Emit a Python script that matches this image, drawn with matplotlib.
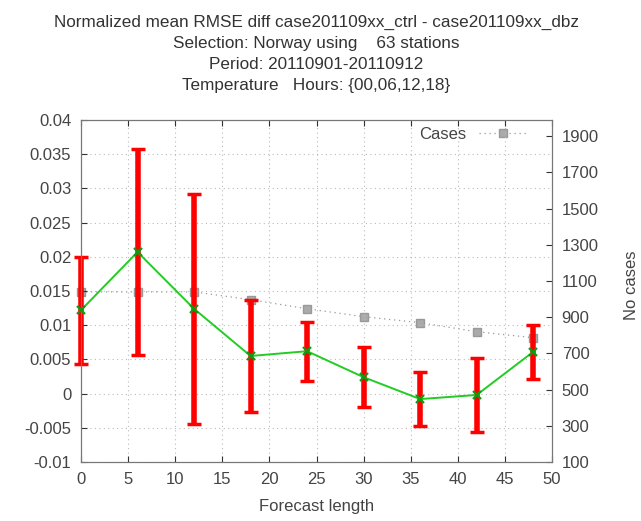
import matplotlib.pyplot as plt
import numpy as np

plt.rcParams['font.family'] = ['Liberation Sans', 'DejaVu Sans']

# forecast lengths and normalized RMSE differences
fclen = [0, 6, 12, 18, 24, 30, 36, 42, 48]
rmse_diff = [0.0122, 0.0207, 0.0124, 0.0055, 0.0062, 0.0024, -0.0008, -0.0002, 0.0061]
rmse_err = [0.0078, 0.0150, 0.0168, 0.0082, 0.0043, 0.0044, 0.0039, 0.0054, 0.0040]
ncases = [1040, 1040, 1040, 997, 947, 903, 870, 820, 787]

title_lines = ['Normalized mean RMSE diff case201109xx_ctrl - case201109xx_dbz',
               'Selection: Norway using    63 stations',
               'Period: 20110901-20110912',
               'Temperature   Hours: {00,06,12,18}']

fig = plt.figure(figsize=(6.41, 5.21), dpi=100)
ax = fig.add_axes([81/641, 59/521, 471/641, 342/521])
ax2 = ax.twinx()

tcol = '#444444'
fcol = '#777777'
fs = 12

# cases on the right axis
ax2.plot(fclen, ncases, color='#999999', linestyle=(0, (1, 3)), lw=0.9,
         marker='s', ms=6, mec='#999999', mfc='#aaaaaa', label='Cases',
         zorder=1, clip_on=False)
ax2.set_ylim(100, 1990)
ax2.set_yticks(np.arange(100, 2000, 200))

ax.set_zorder(ax2.get_zorder() + 1)
ax.patch.set_visible(False)

eb = ax.errorbar(fclen, rmse_diff, yerr=rmse_err, fmt='none', ecolor='#ff0000',
                 elinewidth=4, capsize=5, capthick=2.5, zorder=2)
for child in eb.get_children():
    child.set_clip_on(False)
ax.plot(fclen, rmse_diff, color='#22cc22', lw=1.4, marker='x', ms=6,
        mew=1.6, mec='#119911', zorder=3, clip_on=False)

ax.set_xlim(0, 50)
ax.set_ylim(-0.01, 0.04)
ax.set_xticks(np.arange(0, 51, 5))
ax.set_yticks(np.arange(-0.01, 0.0401, 0.005))
ax.set_yticklabels(['-0.01', '-0.005', '0', '0.005', '0.01', '0.015', '0.02',
                    '0.025', '0.03', '0.035', '0.04'])
ax.grid(True, color='#bbbbbb', linestyle=(0, (1, 3)), lw=0.8)

for a in (ax, ax2):
    for s in a.spines.values():
        s.set_color(fcol)
    a.tick_params(direction='in', length=4, width=0.8, color='#333333',
                  labelcolor=tcol, labelsize=fs, pad=7)
ax.tick_params(top=True)

ax.set_xlabel('Forecast length', fontsize=fs, color=tcol, labelpad=9)
fig.text(624/641, (521 - 285)/521, 'No cases', rotation=90, ha='left',
         va='center', fontsize=fs, color=tcol)

leg = ax2.legend(loc='upper right', bbox_to_anchor=((526 - 81)/471, 0.98),
                 frameon=False, fontsize=fs, handlelength=2.8,
                 handletextpad=0.8, borderaxespad=0, borderpad=0,
                 markerfirst=False)
for t in leg.get_texts():
    t.set_color(tcol)

for i, line in enumerate(title_lines):
    fig.text(316/641, 1 - (22 + 21.3*i)/521, line, ha='center', va='center',
             fontsize=12.3, color='#333333')

fig.savefig('out.png', dpi=100, facecolor='w')
